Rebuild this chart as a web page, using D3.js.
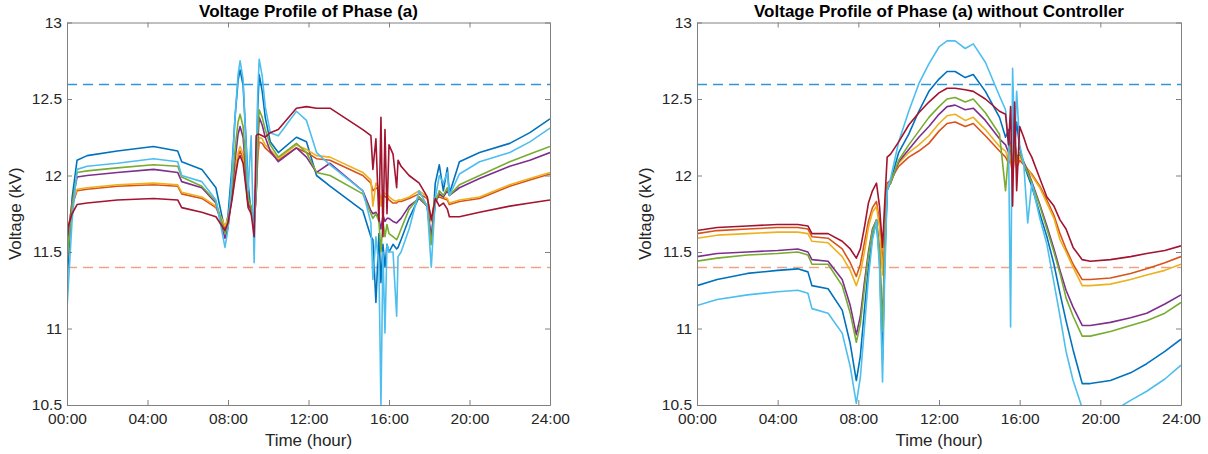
<!DOCTYPE html>
<html><head><meta charset="utf-8">
<script src="https://cdn.jsdelivr.net/npm/d3@7"></script>
<style>
html,body{margin:0;padding:0;background:#fff;}
svg{display:block;font-family:"Liberation Sans",Arial,Helvetica,sans-serif;}
</style></head>
<body>
<svg id="chart" width="1208" height="454"></svg>
<script>
// ---------- DATA ----------
const xTickLabels = ["00:00","04:00","08:00","12:00","16:00","20:00","24:00"];
const xTickHours = [0,4,8,12,16,20,24];
const yTicks = [10.5,11,11.5,12,12.5,13];
const upperLimit = 12.6;
const lowerLimit = 11.4;
const seriesColors = ["#0072BD","#D95319","#EDB120","#7E2F8E","#77AC30","#4DBEEE","#A2142F"];
const titles = ["Voltage Profile of Phase (a)","Voltage Profile of Phase (a) without Controller"];

// Left panel (with controller)
const timeL = [0,0.25,0.5,1,2.5,4.3,5.5,5.7,6.7,7.4,
  7.85,8.0,8.2,8.35,8.5,8.6,8.75,8.9,9.0,9.15,
  9.3,9.4,9.48,9.55,9.7,9.85,10.1,10.5,11.4,11.9,
  12.4,13.07,14.7,15.1,15.2,15.35,15.5,15.6,15.7,15.8,
  15.9,16.0,16.2,16.38,16.45,16.6,17.0,17.5,17.9,18.1,
  18.3,18.5,18.7,18.9,19.0,19.5,20.5,22,23,24];
const L_s1 = [11.30,11.85,12.10,12.13,12.16,12.19,12.16,12.09,12.04,11.92,
  11.64,11.74,12.06,12.38,12.62,12.69,12.59,12.22,11.95,11.75,
  11.70,12.00,12.45,12.66,12.55,12.38,12.22,12.15,12.25,12.22,
  12.00,11.93,11.77,11.60,11.58,11.17,11.62,11.30,11.55,11.40,
  11.55,11.50,11.55,11.52,11.53,11.58,11.72,11.86,11.80,11.55,
  11.95,12.07,11.90,12.05,11.88,12.09,12.15,12.21,12.28,12.37];
const L_s2 = [11.60,11.80,11.90,11.91,11.93,11.94,11.93,11.88,11.85,11.79,
  11.66,11.71,11.86,12.01,12.13,12.16,12.11,11.94,11.81,11.78,
  11.68,11.88,12.12,12.22,12.21,12.18,12.15,12.10,12.18,12.15,
  12.11,12.10,12.00,11.95,11.90,11.92,11.90,11.82,11.88,11.86,
  11.86,11.84,11.82,11.82,11.83,11.83,11.85,11.88,11.85,11.70,
  11.85,11.86,11.85,11.84,11.81,11.83,11.85,11.93,11.97,12.01];
const L_s3 = [11.58,11.82,11.91,11.92,11.94,11.95,11.94,11.89,11.86,11.80,
  11.67,11.72,11.88,12.03,12.15,12.19,12.14,11.96,11.83,11.80,
  11.70,11.90,12.15,12.25,12.24,12.20,12.17,12.11,12.20,12.17,
  12.13,12.12,12.02,11.97,11.80,11.95,11.92,11.80,11.90,11.88,
  11.88,11.86,11.84,11.83,11.84,11.84,11.86,11.90,11.86,11.70,
  11.86,11.87,11.86,11.85,11.82,11.84,11.86,11.94,11.98,12.02];
const L_s4 = [11.55,11.82,11.99,12.00,12.02,12.04,12.02,11.96,11.92,11.82,
  11.59,11.66,11.88,12.10,12.27,12.32,12.25,11.99,11.81,11.78,
  11.68,11.88,12.22,12.38,12.33,12.25,12.16,12.09,12.18,12.12,
  12.02,12.08,11.90,11.77,11.75,11.76,11.72,11.65,11.74,11.70,
  11.72,11.72,11.70,11.69,11.70,11.72,11.80,11.85,11.80,11.60,
  11.82,11.88,11.86,11.90,11.87,11.92,11.98,12.06,12.10,12.15];
const L_s5 = [11.43,11.80,12.02,12.03,12.05,12.07,12.06,11.99,11.93,11.83,
  11.62,11.70,11.93,12.17,12.35,12.40,12.32,12.05,11.85,11.80,
  11.68,11.90,12.28,12.43,12.38,12.30,12.20,12.12,12.21,12.15,
  12.02,12.00,11.88,11.75,11.72,11.75,11.70,11.50,11.70,11.60,
  11.68,11.62,11.60,11.58,11.60,11.65,11.78,11.86,11.80,11.55,
  11.82,11.90,11.87,11.92,11.87,11.94,12.00,12.09,12.14,12.19];
const L_s6 = [11.13,11.70,12.04,12.06,12.08,12.11,12.09,12.00,11.96,11.84,
  11.53,11.65,12.02,12.38,12.66,12.75,12.63,12.20,11.90,12.26,
  11.43,12.10,12.55,12.76,12.65,12.45,12.28,12.26,12.42,12.36,
  12.15,12.07,11.90,11.69,11.32,11.60,11.40,10.50,11.50,10.97,
  11.55,11.50,11.50,11.08,11.47,11.50,11.65,11.90,11.80,11.40,
  11.85,12.00,11.95,12.02,11.87,12.01,12.09,12.15,12.22,12.31];
const L_s7 = [11.64,11.75,11.81,11.82,11.84,11.85,11.84,11.79,11.76,11.73,
  11.64,11.69,11.84,11.98,12.10,12.13,12.08,11.91,11.79,11.75,
  11.60,12.26,12.27,12.27,12.26,12.25,12.28,12.30,12.44,12.45,
  12.44,12.44,12.30,12.26,12.04,12.24,11.70,12.38,11.60,12.30,
  11.75,12.20,12.14,11.92,12.10,12.06,12.00,11.95,11.86,11.71,
  11.85,11.80,11.82,11.78,11.73,11.73,11.76,11.80,11.82,11.84];

// Right panel (without controller)
const timeR = [0,1,2.5,4,5,5.5,5.7,6.5,7.2,7.6,
  7.9,8.1,8.3,8.5,8.7,8.9,9.05,9.2,9.3,9.43,
  9.6,10.0,10.5,11.0,11.5,12.0,12.4,12.8,13.3,13.7,
  14.3,15.0,15.3,15.45,15.55,15.65,15.75,15.85,16.0,16.2,
  16.4,16.6,17.0,17.35,17.7,18.0,18.3,18.65,19.1,19.5,
  20.5,21.5,22.3,23.2,24];
const R_s1 = [11.28,11.32,11.36,11.38,11.39,11.37,11.28,11.26,11.12,10.90,
  10.66,10.82,11.12,11.40,11.60,11.70,11.45,10.80,11.40,11.90,
  11.96,12.15,12.27,12.42,12.55,12.63,12.68,12.68,12.64,12.66,
  12.55,12.38,12.25,12.30,12.10,12.45,12.20,12.35,12.18,12.08,
  12.00,11.93,11.75,11.60,11.42,11.23,11.05,10.86,10.64,10.64,
  10.66,10.71,10.77,10.85,10.93];
const R_s2 = [11.62,11.64,11.65,11.66,11.66,11.65,11.60,11.59,11.52,11.43,
  11.34,11.42,11.56,11.70,11.79,11.83,11.70,11.40,11.70,11.95,
  11.97,12.06,12.12,12.16,12.21,12.29,12.34,12.35,12.32,12.34,
  12.26,12.16,12.12,12.08,12.10,12.00,12.14,12.05,12.10,12.07,
  12.04,12.01,11.93,11.84,11.74,11.62,11.52,11.42,11.32,11.32,
  11.33,11.36,11.39,11.43,11.47];
const R_s3 = [11.59,11.61,11.62,11.63,11.63,11.62,11.57,11.56,11.47,11.38,
  11.28,11.36,11.50,11.66,11.76,11.80,11.66,11.35,11.65,11.93,
  11.96,12.08,12.15,12.20,12.26,12.34,12.39,12.40,12.36,12.38,
  12.30,12.19,12.16,12.10,12.15,12.00,12.18,12.08,12.12,12.08,
  12.04,12.00,11.92,11.82,11.72,11.58,11.50,11.40,11.28,11.28,
  11.29,11.32,11.35,11.38,11.42];
const R_s4 = [11.47,11.49,11.50,11.51,11.52,11.50,11.45,11.44,11.32,11.15,
  10.96,11.08,11.30,11.50,11.65,11.71,11.50,11.00,11.50,11.92,
  11.95,12.09,12.17,12.25,12.32,12.40,12.45,12.46,12.43,12.44,
  12.36,12.24,12.20,12.15,12.20,12.05,12.22,12.12,12.14,12.09,
  12.03,11.96,11.81,11.67,11.52,11.38,11.25,11.14,11.02,11.02,
  11.04,11.07,11.10,11.16,11.22];
const R_s5 = [11.44,11.46,11.48,11.49,11.50,11.48,11.42,11.42,11.28,11.10,
  10.91,11.03,11.26,11.48,11.64,11.71,11.50,10.98,11.48,11.92,
  11.95,12.10,12.20,12.29,12.38,12.45,12.50,12.51,12.48,12.50,
  12.41,12.27,11.90,12.15,12.20,12.05,12.22,12.10,12.15,12.08,
  12.02,11.95,11.80,11.65,11.50,11.36,11.20,11.08,10.95,10.95,
  10.98,11.02,11.05,11.10,11.17];
const R_s6 = [11.15,11.19,11.22,11.24,11.25,11.23,11.13,11.10,10.97,10.75,
  10.51,10.68,11.00,11.33,11.58,11.70,11.40,10.65,11.30,11.90,
  11.98,12.22,12.42,12.60,12.73,12.84,12.88,12.88,12.83,12.86,
  12.74,12.52,12.43,12.20,11.01,12.70,12.20,12.55,12.20,12.08,
  11.69,11.95,11.72,11.55,11.30,11.08,10.85,10.66,10.48,10.42,
  10.45,10.53,10.59,10.67,10.76];
const R_s7 = [11.64,11.66,11.67,11.68,11.68,11.67,11.62,11.62,11.57,11.52,
  11.46,11.52,11.66,11.82,11.90,11.95,11.80,11.53,11.80,12.12,
  12.14,12.22,12.33,12.41,12.48,12.54,12.57,12.57,12.56,12.55,
  12.50,12.42,12.40,12.20,12.45,11.80,12.48,11.90,12.32,12.25,
  12.17,12.12,11.98,11.86,11.80,11.71,11.65,11.53,11.45,11.44,
  11.45,11.47,11.49,11.51,11.54];

const panels = [
  {time: timeL, series: [L_s1,L_s2,L_s3,L_s4,L_s5,L_s6,L_s7], x0: 67, x1: 550, title: titles[0]},
  {time: timeR, series: [R_s1,R_s2,R_s3,R_s4,R_s5,R_s6,R_s7], x0: 697, x1: 1181, title: titles[1]}
];

// ---------- DRAW ----------
const svg = d3.select("#chart");
const yTop = 22.5, yBot = 405;
const axisColor = "#808080", textColor = "#262626";
const defs = svg.append("defs");

panels.forEach((p, pi) => {
  const x = d3.scaleLinear().domain([0,24]).range([p.x0, p.x1]);
  const y = d3.scaleLinear().domain([10.5,13]).range([yBot, yTop]);
  const g = svg.append("g");
  const clipId = "clip" + pi;
  defs.append("clipPath").attr("id", clipId)
    .append("rect").attr("x", p.x0).attr("y", yTop).attr("width", p.x1 - p.x0).attr("height", yBot - yTop);

  const plot = g.append("g").attr("clip-path", `url(#${clipId})`);
  const line = d3.line().x(d => x(d[0])).y(d => y(d[1]));

  plot.append("line").attr("x1", x(0)).attr("x2", x(24)).attr("y1", Math.round(y(upperLimit)) + 0.5).attr("y2", Math.round(y(upperLimit)) + 0.5)
    .attr("stroke", "#2f96dc").attr("stroke-width", 1.3).attr("stroke-dasharray", "10,6");
  plot.append("line").attr("x1", x(0)).attr("x2", x(24)).attr("y1", Math.round(y(lowerLimit)) + 0.5).attr("y2", Math.round(y(lowerLimit)) + 0.5)
    .attr("stroke", "#f0a384").attr("stroke-width", 1.3).attr("stroke-dasharray", "10,6");

  p.series.forEach((vals, si) => {
    const pts = p.time.map((t, i) => [t, vals[i]]);
    plot.append("path").datum(pts).attr("d", line)
      .attr("fill", "none").attr("stroke", seriesColors[si]).attr("stroke-width", 1.6)
      .attr("stroke-linejoin", "round");
  });

  const xAxisB = d3.axisBottom(x).tickValues(xTickHours).tickFormat((d,i) => xTickLabels[i]).tickSizeInner(-5).tickSizeOuter(0).tickPadding(8);
  const xAxisT = d3.axisTop(x).tickValues(xTickHours).tickFormat("").tickSizeInner(-5).tickSizeOuter(0);
  const yAxisL = d3.axisLeft(y).tickValues(yTicks).tickFormat(d3.format("")).tickSizeInner(-5).tickSizeOuter(0).tickPadding(5);
  const yAxisR = d3.axisRight(y).tickValues(yTicks).tickFormat("").tickSizeInner(-5).tickSizeOuter(0);

  const axes = [
    g.append("g").attr("transform", `translate(0,${yBot})`).call(xAxisB),
    g.append("g").attr("transform", `translate(0,${yTop})`).call(xAxisT),
    g.append("g").attr("transform", `translate(${p.x0},0)`).call(yAxisL),
    g.append("g").attr("transform", `translate(${p.x1},0)`).call(yAxisR)
  ];
  axes.forEach(a => {
    a.selectAll("path").attr("stroke", axisColor).attr("stroke-width", 1);
    a.selectAll("line").attr("stroke", axisColor);
    a.selectAll("text").attr("fill", textColor).style("font-size", "15.5px").style("font-family", "'Liberation Sans',Arial,sans-serif");
  });

  g.append("text").attr("x", (p.x0 + p.x1) / 2).attr("y", 17).attr("text-anchor", "middle")
    .style("font-size", "17px").style("font-weight", "bold").attr("fill", "#000").text(p.title);
  g.append("text").attr("x", (p.x0 + p.x1) / 2).attr("y", 446).attr("text-anchor", "middle")
    .style("font-size", "17px").attr("fill", textColor).text("Time (hour)");
  g.append("text").attr("transform", `translate(${p.x0 - 46},${(yTop + yBot) / 2}) rotate(-90)`)
    .attr("text-anchor", "middle").style("font-size", "17px").attr("fill", textColor).text("Voltage (kV)");
});
</script>
</body></html>
